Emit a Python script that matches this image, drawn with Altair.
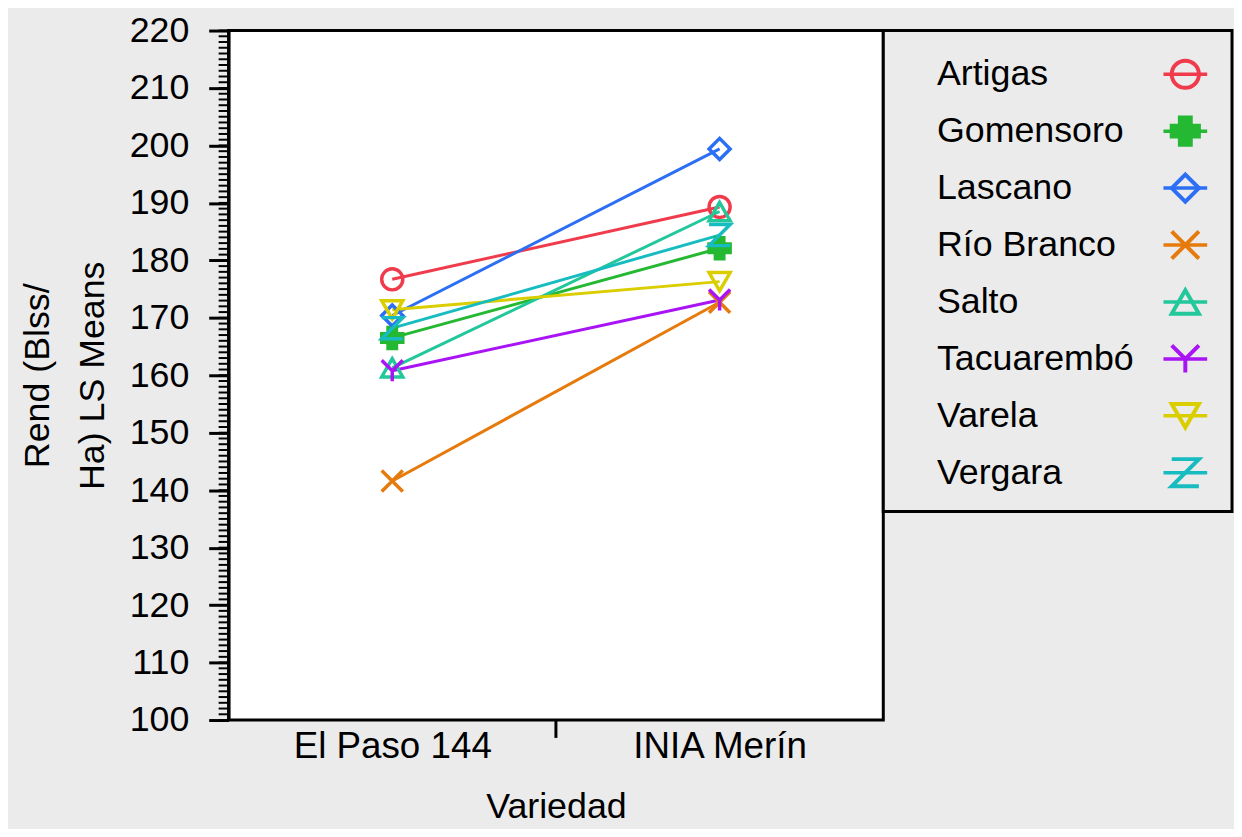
import altair as alt
import pandas as pd

sites = ["Artigas", "Gomensoro", "Lascano", "Río Branco", "Salto", "Tacuarembó", "Varela", "Vergara"]
varieties = ["El Paso 144", "INIA Merín"]
el_paso = [176.7, 166.5, 170.4, 141.6, 161.3, 160.8, 171.4, 168.2]
inia = [189.3, 182.1, 199.4, 172.7, 188.5, 173.1, 176.3, 184.4]
colors = ["#ef3b4b", "#25b832", "#2c6ff5", "#e67a0c", "#22c79a", "#a914f5", "#dacd00", "#17bcc0"]
shapes = ["circle", "cross", "diamond", "M-1,-1L1,1M-1,1L1,-1", "triangle-up",
          "M-1,-1L0,0L1,-1M0,0L0,1", "triangle-down", "M-1,-1L1,-1L-1,1L1,1"]
fills = ["transparent", "#25b832", "transparent", "transparent", "transparent",
         "transparent", "transparent", "transparent"]
y_ticks = list(range(100, 221, 10))
y_minor = list(range(100, 221))

FONT = "Liberation Sans"
W, H = 659, 694
LW, LH = 351, 484

rows = []
for i, s in enumerate(sites):
    rows.append({"Sitio": s, "Variedad": varieties[0], "xi": 0, "LSMean": el_paso[i]})
    rows.append({"Sitio": s, "Variedad": varieties[1], "xi": 1, "LSMean": inia[i]})
df = pd.DataFrame(rows)

color_enc = alt.Color("Sitio:N", scale=alt.Scale(domain=sites, range=colors), legend=None)
shape_enc = alt.Shape("Sitio:N", scale=alt.Scale(domain=sites, range=shapes), legend=None)
fill_enc = alt.Fill("Sitio:N", scale=alt.Scale(domain=sites, range=fills), legend=None)

label_expr = f"datum.value == 0 ? '{varieties[0]}' : '{varieties[1]}'"
x_enc = alt.X("xi:Q", scale=alt.Scale(domain=[-0.5, 1.5], nice=False, zero=False),
              axis=alt.Axis(values=[0, 1], labelExpr=label_expr, ticks=False, domain=False, grid=False,
                            labelFontSize=37, labelPadding=9, labelColor="black", labelFont=FONT,
                            labelLimit=0,
                            title="Variedad", titleFontSize=36, titleFontWeight="normal",
                            titleColor="black", titleFont=FONT, titlePadding=25))
y_scale = alt.Scale(domain=[100, 220], nice=False, zero=False)
y_enc = alt.Y("LSMean:Q", scale=y_scale,
              axis=alt.Axis(values=y_ticks, tickSize=20, tickWidth=3, tickColor="black",
                            domainWidth=3, domainColor="black", grid=False,
                            labelFontSize=36, labelPadding=20, labelColor="black", labelFont=FONT,
                            title=["Rend (Blss/", "Ha) LS Means"], titleFontSize=36,
                            titleFontWeight="normal", titleColor="black", titleFont=FONT,
                            titlePadding=18, titleLineHeight=55))

lines = alt.Chart(df).mark_line(strokeWidth=3).encode(x=x_enc, y=y_enc, color=color_enc, detail="Sitio:N")
points = alt.Chart(df).mark_point(filled=False, size=450, strokeWidth=3.5, opacity=1, fillOpacity=1).encode(
    x="xi:Q", y="LSMean:Q", color=color_enc, shape=shape_enc, fill=fill_enc)

minor = alt.Chart(pd.DataFrame({"LSMean": y_minor})).mark_rule(color="black", strokeWidth=2).encode(
    y=alt.Y("LSMean:Q", scale=y_scale), x=alt.value(-10), x2=alt.value(0))
mid_tick = alt.Chart(pd.DataFrame({"xi": [0.5]})).mark_rule(color="black", strokeWidth=3).encode(
    x="xi:Q", y=alt.value(H), y2=alt.value(H + 18))

main = alt.layer(lines, points, minor, mid_tick).properties(
    width=W, height=H,
    view=alt.ViewBackground(fill="white", stroke="black", strokeWidth=3))

leg_df = pd.DataFrame({"Sitio": sites, "idx": list(range(len(sites)))})
ly = alt.Y("idx:Q", scale=alt.Scale(domain=[-0.768, 7.679], reverse=True, nice=False, zero=False), axis=None)
leg_text = alt.Chart(leg_df).mark_text(align="left", baseline="middle", fontSize=36, font=FONT,
                                       color="black").encode(x=alt.value(54), y=ly, text="Sitio:N")
leg_line = alt.Chart(leg_df).mark_rule(strokeWidth=3.5).encode(
    x=alt.value(282), x2=alt.value(326), y=ly, color=color_enc)
leg_pts = alt.Chart(leg_df).mark_point(filled=False, size=750, strokeWidth=4, opacity=1, fillOpacity=1).encode(
    x=alt.value(304), y=ly, color=color_enc, shape=shape_enc, fill=fill_enc)
legend = alt.layer(leg_line, leg_pts, leg_text).properties(
    width=LW, height=LH,
    view=alt.ViewBackground(fill="#ebebeb", stroke="black", strokeWidth=3))

chart = alt.hconcat(main, legend, spacing=0, bounds="flush").properties(
    padding={"left": 10, "top": 0, "right": 0, "bottom": 0}
).configure(background="#ebebeb", font=FONT).configure_concat(spacing=0)

chart.save("out.html", embed_options={"renderer": "svg", "actions": False})
